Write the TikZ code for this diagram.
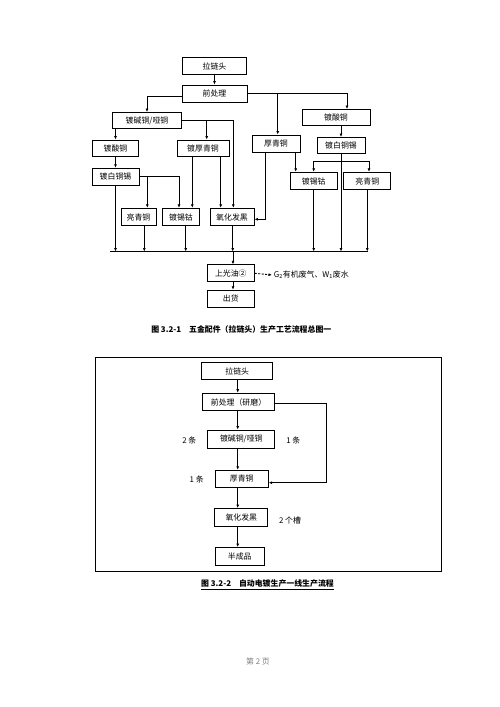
\documentclass[tikz,border=0pt]{standalone}
\usepackage{fontspec}
\setmainfont{Noto Sans CJK SC}
\usetikzlibrary{arrows.meta}

\begin{document}
\begin{tikzpicture}[x=1pt, y=-1pt, line width=0.9pt, >={Latex[length=3.5pt,width=3pt]},
	kou/.style={draw, inner sep=0pt, minimum height=17pt, font=\fontsize{7.9}{9}\selectfont},
	moji/.style={inner sep=0pt, font=\fontsize{7.9}{9}\selectfont},
	midashi/.style={inner sep=0pt, font=\bfseries\fontsize{7.9}{9}\selectfont}]
	\useasboundingbox (0,0) rectangle (500,707); %ページ全体
%	図3.2-1
	\node[kou, minimum width=64pt] (lian) at (214.5,66) {拉链头};
	\node[kou, minimum width=65pt] (qian) at (214.5,93.5) {前处理};
	\node[kou, minimum width=69pt, minimum height=16pt] (jian) at (147,120.5) {镀碱铜/哑铜};
	\node[kou, minimum width=46pt, minimum height=16pt] (suanL) at (115.5,148) {镀酸铜};
	\node[kou, minimum width=52pt, minimum height=16pt] (houqing) at (203,148) {镀厚青铜};
	\node[kou, minimum width=48pt] (houR) at (276,143.5) {厚青铜};
	\node[kou, minimum width=68pt, minimum height=16pt] (suanR) at (336,117.5) {镀酸铜};
	\node[kou, minimum width=48pt, minimum height=16pt] (baiR) at (341,145.5) {镀白铜锡};
	\node[kou, minimum width=47pt] (baiL) at (115.5,176.7) {镀白铜锡};
	\node[kou, minimum width=35pt, minimum height=17.5pt] (liangL) at (138.5,217) {亮青铜};
	\node[kou, minimum width=37pt, minimum height=17.5pt] (xiL) at (181,217) {镀锡钴};
	\node[kou, minimum width=44pt, minimum height=17.5pt] (yang) at (232,217) {氧化发黑};
	\node[kou, minimum width=47pt, minimum height=17.5pt] (xiR) at (313.7,181) {镀锡钴};
	\node[kou, minimum width=47pt, minimum height=17.5pt] (liangR) at (367.3,181) {亮青铜};
	\node[kou, minimum width=47pt] (guang) at (230.8,273.3) {上光油②};
	\node[kou, minimum width=47pt] (chu) at (230.8,298.7) {出货};
	\node[moji, anchor=west] (fei) at (273.5,275) {G\textsubscript{2}有机废气、W\textsubscript{1}废水};
	\coordinate (busL) at (110,251.5); %集合線(左)
	\coordinate (busR) at (368.3,251.5); %集合線(右)
	\coordinate (bunki) at (340.7,161.7); %右側の分岐
	\draw (busL) -- (busR);
	\draw[->] (lian) -- (qian);
	\draw[->] ([yshift=-3pt]qian.west) -| (jian.north);
	\draw[->] (qian.east) -| ([xshift=11pt]suanR.north);
	\draw[->] ([xshift=1.7pt]qian.east -| houR.north) -- ([xshift=1.7pt]houR.north);
	\draw[->] (jian.south -| suanL.north) -- (suanL.north);
	\draw[->] (jian.east) -| ([xshift=1.3pt]yang.north);
	\draw[->] ([xshift=3.7pt]jian.east -| houqing.north) -- ([xshift=3.7pt]houqing.north);
	\draw[->] (suanL) -- (baiL);
	\draw[->] (baiL.east) -| ([xshift=-2pt]xiL.north);
	\draw[->] ([xshift=8.8pt]baiL.east -| liangL.north) -- ([xshift=8.8pt]liangL.north);
	\draw[->] (baiL.south) -- (baiL.south |- busL);
	\draw[->] ([xshift=5.8pt]liangL.south) -- ([xshift=5.8pt]liangL.south |- busL);
	\draw[->] ([xshift=4.7pt]xiL.south) -- ([xshift=4.7pt]xiL.south |- busL);
	\draw[->] ([xshift=0.7pt]yang.south) -- ([xshift=0.7pt]yang.south |- busL);
	\draw[->] ([xshift=-10.7pt]houqing.south) -- ([xshift=-10.7pt]houqing.south |- xiL.north);
	\draw[->] ([xshift=17.7pt]houqing.south) -- ([xshift=17.7pt]houqing.south |- yang.north);
	\draw[->] ([xshift=-11pt]houR.south) |- ([yshift=-2.3pt]yang.east);
	\draw[->] ([xshift=19.7pt]houR.south) -- ([xshift=19.7pt]houR.south |- xiR.north);
	\draw[->] (suanR.south -| baiR.north) -- (baiR.north);
	\draw[->] (baiR.south) -- (baiR.south |- busL);
	\draw[->] (bunki) -| (xiR.north);
	\draw[->] (bunki) -| ([xshift=1.7pt]liangR.north);
	\draw[->] (xiR.south) -- (xiR.south |- busL);
	\draw[->] (liangR.south) -- (liangR.south |- busL);
	\draw[->] ([xshift=1pt]yang.south |- busL) -- ([xshift=1pt]yang.south |- guang.north);
	\draw[->] ([xshift=1pt]yang.south |- guang.south) -- ([xshift=1pt]yang.south |- chu.north);
	\draw[->, dash pattern=on 2pt off 1.5pt] (guang.east) -- ([xshift=-1.5pt]fei.west); %排出物
	\node[midashi] (zu1) at (241.3,329.3) {图 3.2-1\quad 五金配件（拉链头）生产工艺流程总图一};
%	図3.2-2
	\draw (95.7,357.3) rectangle (441,571.7); %外枠
	\node[kou, minimum width=71pt] (lian2) at (237.2,371.3) {拉链头};
	\node[kou, minimum width=72pt, minimum height=17.7pt] (qian2) at (238.5,402) {前处理（研磨）};
	\node[kou, minimum width=67pt, minimum height=18pt] (jian2) at (241.3,439) {镀碱铜/哑铜};
	\node[kou, minimum width=53pt] (hou2) at (241.7,478.7) {厚青铜};
	\node[kou, minimum width=53pt, minimum height=18pt] (yang2) at (241.3,517.5) {氧化发黑};
	\node[kou, minimum width=49pt, minimum height=18pt] (ban2) at (239.7,556.5) {半成品};
	\coordinate (col) at (237.7,0); %縦の矢印の列
	\coordinate (mawari) at (326.7,0); %迂回線
	\coordinate (hairi) at ([yshift=-4pt]hou2.east); %厚青铜への入口
	\draw[->] (lian2.south -| col) -- (qian2.north -| col);
	\draw[->] (qian2.south -| col) -- (jian2.north -| col);
	\draw[->] (jian2.south -| col) -- (hou2.north -| col);
	\draw[->] (hou2.south -| col) -- (yang2.north -| col);
	\draw[->] (yang2.south -| col) -- (ban2.north -| col);
	\draw[->] ([yshift=-1.3pt]qian2.east) -| (mawari |- hairi) -- (hairi);
	\node[moji] (tiao1) at (189.3,440) {2 条};
	\node[moji] (tiao2) at (293.3,440) {1 条};
	\node[moji] (tiao3) at (196.7,479.3) {1 条};
	\node[moji] (cao) at (290,520) {2 个槽};
	\node[midashi] (zu2) at (267.5,585) {\underline{图 3.2-2\quad 自动电镀生产一线生产流程}};
	\node[moji, text=gray] (peji) at (258,661.7) {第 2 页};
\end{tikzpicture}
\end{document}
